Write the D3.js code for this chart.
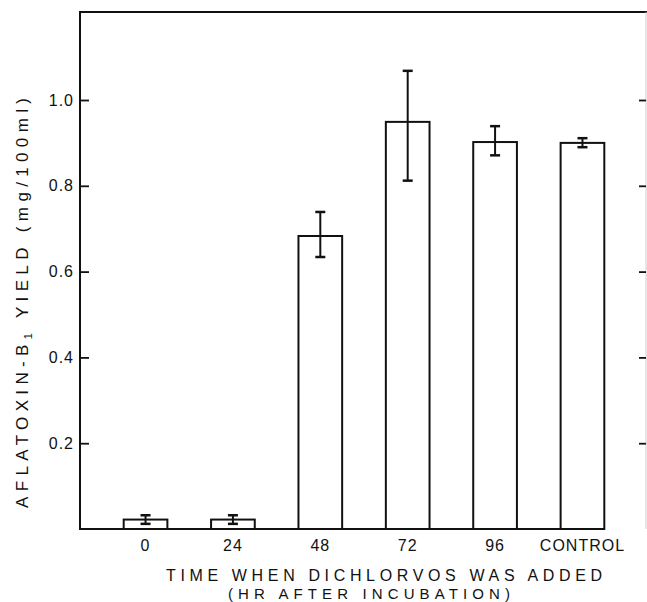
<!DOCTYPE html>
<html>
<head>
<meta charset="utf-8">
<script src="https://cdn.jsdelivr.net/npm/d3@7"></script>
<style>
  html, body { margin: 0; padding: 0; background: #fff; }
  svg { display: block; }
  text { font-family: "Liberation Sans", "DejaVu Sans", sans-serif; fill: #111; }
</style>
</head>
<body>
<svg id="chart" width="647" height="602"></svg>
<script>
// ---- data ----
const categories = ["0", "24", "48", "72", "96", "CONTROL"];
const yields     = [0.022, 0.022, 0.683, 0.949, 0.902, 0.900];
const errLow     = [0.012, 0.012, 0.634, 0.812, 0.871, 0.890];
const errHigh    = [0.032, 0.032, 0.739, 1.068, 0.939, 0.911];
const yTicks      = [0.2, 0.4, 0.6, 0.8, 1.0];
const yTickLabels = ["0.2", "0.4", "0.6", "0.8", "1.0"];
const yMax = 1.205;
const xTitle1 = "TIME WHEN DICHLORVOS WAS ADDED";
const xTitle2 = "(HR AFTER INCUBATION)";

// ---- layout ----
const svg = d3.select("#chart");
const plotLeft = 80, plotRight = 646, plotBottom = 529;
const ink = "#111";

const x = d3.scaleBand().domain(categories).range([plotLeft, 648]).paddingInner(0.5).paddingOuter(0.5);
const y = d3.scaleLinear().domain([0, 1]).range([plotBottom, 100]);

const rows = categories.map((c, i) => ({ c, v: yields[i], lo: errLow[i], hi: errHigh[i] }));

// bars
svg.append("g").selectAll("rect").data(rows).join("rect")
  .attr("x", d => x(d.c))
  .attr("y", d => y(d.v))
  .attr("width", x.bandwidth())
  .attr("height", d => y(0) - y(d.v))
  .attr("fill", "#fff")
  .attr("stroke", ink)
  .attr("stroke-width", 2);

// error bars
const eb = svg.append("g").attr("stroke", ink);
eb.selectAll("line.v").data(rows).join("line").attr("class", "v")
  .attr("x1", d => x(d.c) + x.bandwidth() / 2).attr("x2", d => x(d.c) + x.bandwidth() / 2)
  .attr("y1", d => y(d.lo)).attr("y2", d => y(d.hi)).attr("stroke-width", 2);
["lo", "hi"].forEach(k => {
  eb.selectAll("line." + k).data(rows).join("line").attr("class", k)
    .attr("x1", d => x(d.c) + x.bandwidth() / 2 - 5).attr("x2", d => x(d.c) + x.bandwidth() / 2 + 5)
    .attr("y1", d => y(d[k])).attr("y2", d => y(d[k])).attr("stroke-width", 2.5);
});

// frame
svg.append("path")
  .attr("d", `M${x(categories[categories.length - 1]) + x.bandwidth()},${plotBottom}H${plotLeft}V${y(yMax)}H647`)
  .attr("fill", "none").attr("stroke", ink).attr("stroke-width", 2);
svg.append("line").attr("x1", plotRight).attr("x2", plotRight).attr("y1", y(yMax)).attr("y2", plotBottom)
  .attr("stroke", "#ccc").attr("stroke-width", 1);

// left axis (inward ticks)
const yAxis = d3.axisLeft(y).tickValues(yTicks).tickFormat((d, i) => yTickLabels[i])
  .tickSizeInner(-9).tickSizeOuter(0).tickPadding(6);
const gy = svg.append("g").attr("transform", `translate(${plotLeft},0)`).call(yAxis);
gy.select(".domain").remove();
gy.selectAll(".tick line").attr("stroke", ink).attr("stroke-width", 1.8);
gy.selectAll(".tick text").attr("font-size", 16).attr("letter-spacing", 1).attr("fill", ink)
  .attr("font-family", "Liberation Sans, sans-serif");

// right axis (inward ticks, no labels)
const yAxisR = d3.axisRight(y).tickValues(yTicks).tickFormat("").tickSizeInner(-7).tickSizeOuter(0);
const gyr = svg.append("g").attr("transform", `translate(${plotRight},0)`).call(yAxisR);
gyr.select(".domain").remove();
gyr.selectAll(".tick line").attr("stroke", ink).attr("stroke-width", 1.8);

// bottom axis labels
const xAxis = d3.axisBottom(x).tickSize(0).tickPadding(11);
const gx = svg.append("g").attr("transform", `translate(0,${plotBottom})`).call(xAxis);
gx.select(".domain").remove();
gx.selectAll(".tick text").attr("font-size", 16).attr("letter-spacing", 1).attr("fill", ink)
  .attr("font-family", "Liberation Sans, sans-serif");

// x title
svg.append("text").attr("x", 384).attr("y", 581).attr("text-anchor", "middle")
  .attr("font-size", 16).attr("textLength", 436).attr("lengthAdjust", "spacing").text(xTitle1);
svg.append("text").attr("x", 369).attr("y", 599).attr("text-anchor", "middle")
  .attr("font-size", 15).attr("textLength", 282).attr("lengthAdjust", "spacing").text(xTitle2);

// y title
const yt = svg.append("text").attr("transform", "translate(28,303) rotate(-90)")
  .attr("text-anchor", "middle").attr("font-size", 17)
  .attr("textLength", 410).attr("lengthAdjust", "spacing");
yt.append("tspan").text("AFLATOXIN-B");
yt.append("tspan").attr("font-size", 11).attr("dy", 4).text("1");
yt.append("tspan").attr("dy", -4).text("  YIELD (mg/100ml)");
</script>
</body>
</html>
